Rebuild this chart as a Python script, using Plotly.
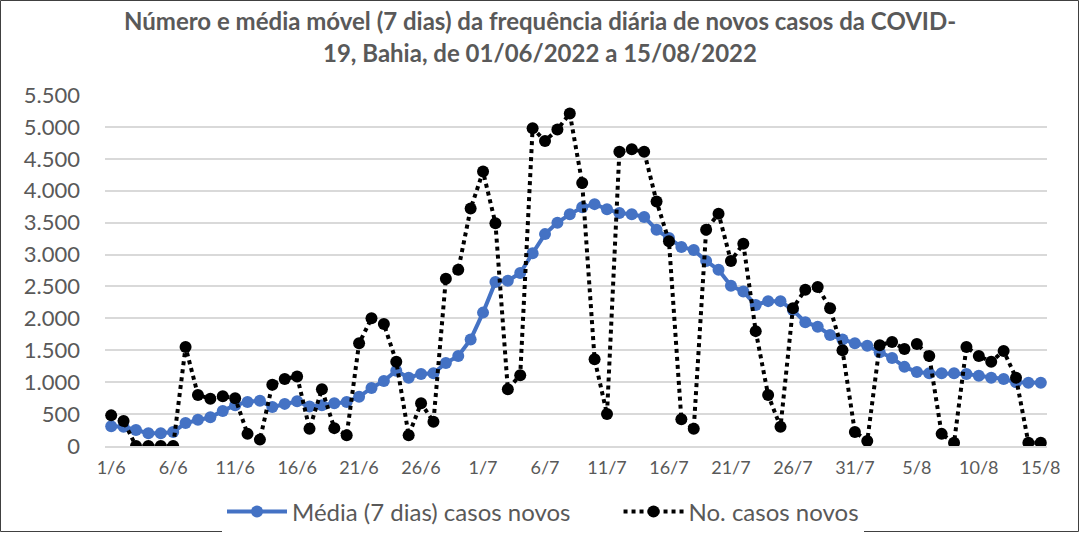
import plotly.graph_objects as go

dates = ["1/6","2/6","3/6","4/6","5/6","6/6","7/6","8/6","9/6","10/6",
         "11/6","12/6","13/6","14/6","15/6","16/6","17/6","18/6","19/6","20/6",
         "21/6","22/6","23/6","24/6","25/6","26/6","27/6","28/6","29/6","30/6",
         "1/7","2/7","3/7","4/7","5/7","6/7","7/7","8/7","9/7","10/7",
         "11/7","12/7","13/7","14/7","15/7","16/7","17/7","18/7","19/7","20/7",
         "21/7","22/7","23/7","24/7","25/7","26/7","27/7","28/7","29/7","30/7",
         "31/7","1/8","2/8","3/8","4/8","5/8","6/8","7/8","8/8","9/8",
         "10/8","11/8","12/8","13/8","14/8","15/8"]

casos_novos = [480, 390, 0, 0, 0, 0, 1550, 800, 740, 780,
               750, 190, 100, 960, 1050, 1090, 270, 890, 280, 170,
               1610, 2000, 1910, 1320, 170, 670, 380, 2620, 2760, 3720,
               4300, 3490, 890, 1110, 4980, 4780, 4960, 5210, 4120, 1360,
               500, 4610, 4650, 4610, 3830, 3210, 420, 270, 3390, 3640,
               2900, 3170, 1800, 800, 300, 2160, 2450, 2490, 2160, 1500,
               220, 80, 1580, 1630, 1520, 1600, 1410, 190, 50, 1550,
               1410, 1320, 1490, 1070, 50, 50]

media_7d = [310, 300, 250, 200, 200, 220, 360, 410, 450, 550,
            640, 690, 710, 610, 660, 700, 620, 640, 670, 690,
            770, 910, 1020, 1180, 1070, 1130, 1140, 1300, 1410, 1670,
            2090, 2570, 2590, 2710, 3020, 3320, 3500, 3630, 3740, 3790,
            3710, 3650, 3630, 3590, 3390, 3260, 3120, 3070, 2900, 2760,
            2510, 2420, 2210, 2270, 2270, 2130, 1940, 1870, 1740, 1670,
            1610, 1570, 1470, 1380, 1240, 1160, 1140, 1140, 1140, 1130,
            1100, 1070, 1050, 1000, 990, 990]

tick_labels = ["1/6","6/6","11/6","16/6","21/6","26/6","1/7","6/7","11/7","16/7",
               "21/7","26/7","31/7","5/8","10/8","15/8"]

title_lines = ["Número e média móvel (7 dias) da frequência diária de novos casos da COVID-",
               "19, Bahia, de 01/06/2022 a 15/08/2022"]

FONT = "Lato"
GREY = "#595959"
NBSP = "\u00a0"

fig = go.Figure()
fig.add_trace(go.Scatter(
    x=dates, y=media_7d, name="Média (7 dias) casos novos" + NBSP * 7,
    mode="lines+markers",
    line=dict(color="#4472C4", width=4),
    marker=dict(color="#4472C4", size=12),
))
fig.add_trace(go.Scatter(
    x=dates, y=casos_novos, name="No. casos novos",
    mode="lines+markers",
    line=dict(color="black", width=4, dash="4px,4px"),
    marker=dict(color="black", size=12),
))

L, R, T, B = 105, 33, 95, 87
W, H = 1080, 533
pw, ph = W - L - R, H - T - B

def px_x(p):
    return (p - L) / pw

def px_y(p):
    return (H - B - p) / ph

annotations = []
for line, yc in zip(title_lines, [21, 53]):
    annotations.append(dict(
        text=f"<b>{line}</b>", x=px_x(540), xref="paper", xanchor="center",
        y=px_y(yc), yref="paper", yanchor="middle", showarrow=False,
        font=dict(family=FONT, size=24, color=GREY),
    ))

fig.update_layout(
    width=W, height=H,
    margin=dict(l=L, r=R, t=T, b=B, autoexpand=False),
    paper_bgcolor="white", plot_bgcolor="white",
    separators=",.",
    showlegend=True,
    legend=dict(orientation="h", xref="container", x=543 / W, xanchor="center",
                yref="container", y=1 - 512 / H, yanchor="middle",
                font=dict(family=FONT, size=24, color=GREY),
                itemwidth=60, tracegroupgap=0),
    annotations=annotations,
    shapes=[dict(type="rect", xref="paper", yref="paper",
                 x0=px_x(0.5), x1=px_x(W - 1.5), y0=px_y(H - 1.5), y1=px_y(0.5),
                 line=dict(color="#404040", width=1), layer="below")],
    font=dict(family=FONT, color=GREY),
)
fig.update_xaxes(
    type="category", range=[-0.5, 75.5],
    tickmode="array", tickvals=tick_labels, ticktext=tick_labels,
    showgrid=False, showline=True, linecolor="#D9D9D9", linewidth=1.5,
    ticks="", tickfont=dict(family=FONT, size=18, color=GREY),
    ticklabelstandoff=5,
)
fig.update_yaxes(
    range=[0, 5500], dtick=500, tickformat=",d",
    showgrid=True, gridcolor="#D9D9D9", gridwidth=1.5,
    zeroline=False, showline=False, ticks="",
    tickfont=dict(family=FONT, size=22, color=GREY),
    ticklabelstandoff=24,
)

fig.write_html("out.html",
               config={"displayModeBar": False},
               post_script="document.body.style.margin='0';document.body.style.overflow='hidden';")
